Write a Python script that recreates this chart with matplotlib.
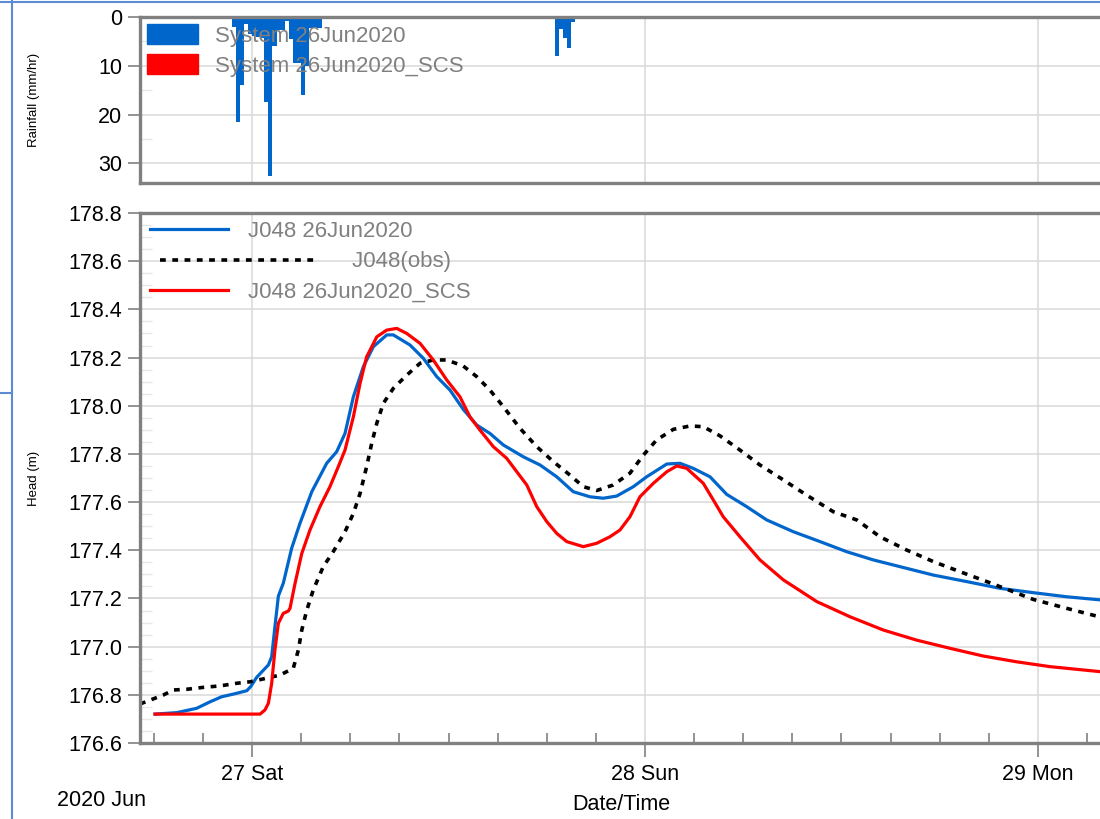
import numpy as np
import pandas as pd
import matplotlib
matplotlib.use("Agg")
import matplotlib.pyplot as plt
import matplotlib.dates as mdates
from matplotlib.lines import Line2D
from matplotlib.patches import Patch
from matplotlib.legend_handler import HandlerLine2D

plt.rcParams["font.family"] = ["Liberation Sans", "DejaVu Sans"]

# ---- data (hours relative to 27 Jun 2020 00:00) ----
base = pd.Timestamp("2020-06-27 00:00")

# rainfall, 15 minute intensities (mm/hr)
rain_start = pd.date_range("2020-06-26 22:45", periods=22, freq="15min").append(
    pd.date_range("2020-06-27 18:30", periods=5, freq="15min"))
rain_sys = [2.0, 21.5, 14.0, 1.5, 3.5, 3.8, 4.0, 4.2, 17.5, 32.5, 6.0, 2.7, 2.7, 0.8,
            4.5, 9.5, 9.5, 16.0, 10.0, 2.3, 2.3, 2.3,
            8.0, 2.5, 4.4, 6.4, 1.0]
rain_scs = rain_sys

# J048 26Jun2020 (model)
blue_h = [-5.92, -4.60, -3.38, -2.56, -1.85, -1.14, -0.32, -0.08, 0.29, 1.00, 1.20, 1.40,
          1.61, 1.91, 2.42, 2.93, 3.65, 4.56, 5.17, 5.68, 6.19, 6.80, 7.41, 8.23, 8.63,
          9.65, 10.46, 11.28, 12.09, 12.90, 13.72, 14.53, 15.35, 16.57, 17.59, 18.61,
          19.62, 20.64, 21.45, 22.27, 23.29, 24.10, 25.33, 26.14, 26.95, 27.97, 28.99,
          30.21, 31.43, 33.06, 34.69, 36.32, 37.94, 39.57, 41.61, 43.65, 45.68, 47.71,
          49.75, 51.97]
blue_v = [176.720, 176.726, 176.744, 176.771, 176.792, 176.803, 176.817, 176.834, 176.873,
          176.924, 176.958, 177.083, 177.210, 177.263, 177.408, 177.512, 177.643, 177.761,
          177.809, 177.885, 178.037, 178.162, 178.245, 178.294, 178.294, 178.252, 178.197,
          178.121, 178.065, 177.985, 177.920, 177.885, 177.837, 177.788, 177.754, 177.705,
          177.643, 177.622, 177.616, 177.625, 177.664, 177.705, 177.758, 177.761, 177.740,
          177.705, 177.632, 177.581, 177.526, 177.477, 177.436, 177.394, 177.360, 177.332,
          177.297, 177.270, 177.242, 177.224, 177.207, 177.193]

# J048 26Jun2020_SCS (model)
red_h = [-5.92, 0.49, 0.79, 1.00, 1.20, 1.40, 1.61, 1.91, 2.22, 2.32, 2.63, 3.04, 3.54,
         4.15, 4.76, 5.27, 5.68, 6.19, 6.60, 7.00, 7.62, 8.23, 8.84, 9.45, 10.26, 11.07,
         11.89, 12.70, 13.31, 13.92, 14.74, 15.55, 16.17, 16.78, 17.39, 18.00, 18.61,
         19.22, 20.23, 21.05, 21.86, 22.47, 23.08, 23.69, 24.51, 25.33, 25.94, 26.55,
         27.56, 28.17, 28.78, 29.80, 31.02, 32.45, 34.49, 36.52, 38.55, 40.59, 42.63,
         44.66, 46.70, 48.73, 51.97]
red_v = [176.720, 176.720, 176.737, 176.765, 176.847, 176.986, 177.097, 177.138, 177.148,
         177.159, 177.263, 177.387, 177.484, 177.581, 177.664, 177.747, 177.816, 177.954,
         178.093, 178.203, 178.286, 178.314, 178.321, 178.300, 178.259, 178.190, 178.107,
         178.037, 177.954, 177.899, 177.830, 177.782, 177.726, 177.671, 177.581, 177.519,
         177.470, 177.436, 177.415, 177.429, 177.456, 177.484, 177.539, 177.622, 177.678,
         177.726, 177.750, 177.740, 177.678, 177.609, 177.539, 177.456, 177.360, 177.277,
         177.187, 177.124, 177.069, 177.027, 176.993, 176.961, 176.937, 176.917, 176.895]

# J048(obs)
obs_h = [-6.84, -5.42, -4.81, -3.99, -2.97, -1.95, -0.93, -0.12, 0.69, 1.71, 2.52, 2.83,
         3.04, 3.34, 3.74, 4.35, 4.96, 5.68, 6.19, 6.60, 7.00, 7.31, 7.62, 8.02, 8.63,
         9.45, 10.26, 11.07, 11.89, 12.90, 13.72, 14.53, 15.35, 16.37, 17.39, 18.40,
         19.42, 20.23, 21.05, 22.06, 23.08, 23.90, 24.71, 25.73, 26.75, 27.56, 28.58,
         29.80, 31.02, 32.45, 33.87, 35.50, 36.93, 38.35, 39.98, 41.61, 43.24, 44.87,
         46.49, 47.71, 49.75, 51.97]
obs_v = [176.762, 176.799, 176.820, 176.823, 176.831, 176.837, 176.848, 176.854, 176.866,
         176.882, 176.910, 176.986, 177.069, 177.150, 177.235, 177.332, 177.394, 177.477,
         177.553, 177.636, 177.747, 177.844, 177.927, 178.010, 178.072, 178.127, 178.176,
         178.190, 178.190, 178.165, 178.121, 178.065, 177.996, 177.906, 177.830, 177.768,
         177.712, 177.664, 177.648, 177.671, 177.720, 177.795, 177.858, 177.902, 177.916,
         177.913, 177.875, 177.816, 177.754, 177.692, 177.629, 177.560, 177.526, 177.456,
         177.401, 177.353, 177.311, 177.270, 177.228, 177.196, 177.159, 177.120]


def to_num(hours):
    return mdates.date2num(base + pd.to_timedelta(np.asarray(hours), unit="h"))


class LongLineHandler(HandlerLine2D):
    # the obs legend sample is drawn longer than the others
    def create_artists(self, legend, orig_handle, xdescent, ydescent, width, height, fontsize, trans):
        return super().create_artists(legend, orig_handle, xdescent - 7, ydescent,
                                      width * 2.05, height, fontsize, trans)


BLUE = "#0066cc"
RED = "#ff0000"
GRAY = "#808080"
GRID = "#d9d9d9"
FS = 15.5
W, H = 1100, 819


def px_axes(left, top, right, bottom):
    return [left / W, 1 - bottom / H, (right - left) / W, (bottom - top) / H]


fig = plt.figure(figsize=(W / 100, H / 100), dpi=100)
ax_r = fig.add_axes(px_axes(140, 17, 1103, 183))
ax_h = fig.add_axes(px_axes(140, 213, 1103, 743), sharex=ax_r)

# ---- rainfall ----
rain_x = mdates.date2num(rain_start)
ax_r.bar(rain_x, rain_scs, width=15 / 1440, align="edge", color=RED, linewidth=0)
ax_r.bar(rain_x, rain_sys, width=15 / 1440, align="edge", color=BLUE, linewidth=0)
ax_r.set_ylim(34, 0)
ax_r.set_yticks([0, 10, 20, 30])
ax_r.set_yticks([5, 15, 25], minor=True)
ax_r.tick_params(axis="x", which="both", bottom=False, labelbottom=False)
ax_r.set_ylabel("Rainfall (mm/hr)", fontsize=9.5)
ax_r.yaxis.set_label_coords((40 - 140) / 963, 0.5)
ax_r.legend([Patch(color=BLUE), Patch(color=RED)],
            ["System 26Jun2020", "System 26Jun2020_SCS"],
            loc="upper left", bbox_to_anchor=(0.007, 0.955), frameon=False,
            fontsize=16, labelcolor=GRAY, handlelength=2.3, handleheight=1.0,
            handletextpad=0.75, labelspacing=0.32, borderpad=0, borderaxespad=0)

# ---- head ----
ax_h.plot(to_num(blue_h), blue_v, color=BLUE, lw=2.3, label="J048 26Jun2020")
obs_line, = ax_h.plot(to_num(obs_h), obs_v, color="black", lw=2.6,
                      linestyle=(0, (1.6, 1.8)), label=" " * 17 + "J048(obs)")
ax_h.plot(to_num(red_h), red_v, color=RED, lw=2.3, label="J048 26Jun2020_SCS")
ax_h.set_ylim(176.6, 178.8)
ax_h.set_yticks(np.round(np.arange(176.6, 178.81, 0.2), 1))
ax_h.set_yticks(np.round(np.arange(176.6, 178.81, 0.05), 2), minor=True)
ax_h.yaxis.set_major_formatter(matplotlib.ticker.FormatStrFormatter("%.1f"))
ax_h.set_ylabel("Head (m)", fontsize=9.5)
ax_h.yaxis.set_label_coords((40 - 140) / 963, 0.5)
ax_h.legend(handler_map={obs_line: LongLineHandler()}, loc="upper left",
            bbox_to_anchor=(0.0104, 0.985), frameon=False, fontsize=16, labelcolor=GRAY,
            handlelength=3.5, handletextpad=0.9, labelspacing=0.42, borderpad=0,
            borderaxespad=0)

ax_h.xaxis.set_major_locator(mdates.DayLocator())
ax_h.xaxis.set_major_formatter(mdates.DateFormatter("%d %a"))
ax_h.xaxis.set_minor_locator(mdates.HourLocator(byhour=range(0, 24, 3)))
ax_h.set_xlim(to_num(-6.84), to_num(51.97))
ax_h.set_xlabel("Date/Time", fontsize=FS)
ax_h.xaxis.set_label_coords(0.5, -0.097)
ax_h.tick_params(axis="x", which="major", direction="out", length=10, width=1.2,
                 color=GRAY, pad=5, labelsize=FS)
ax_h.tick_params(axis="x", which="minor", direction="in", length=7, width=1.2, color=GRAY)

for ax in (ax_r, ax_h):
    ax.set_axisbelow(True)
    ax.grid(which="major", color=GRID, lw=1.1)
    ax.tick_params(axis="y", which="major", direction="out", length=8.5, width=1.2,
                   color=GRAY, pad=4.5, labelsize=FS)
    ax.tick_params(axis="y", which="minor", direction="in", length=8.5, width=1,
                   color="#e8e8e8")
    for side in ("left", "top", "bottom"):
        ax.spines[side].set_color(GRAY)
        ax.spines[side].set_linewidth(2.4)
    ax.spines["right"].set_visible(False)

fig.text(57 / W, 1 - 801 / H, "2020 Jun", fontsize=FS, ha="left", va="center")

# window frame lines of the screenshot
frame = "#5b8bd0"
fig.add_artist(Line2D([0, 1], [1 - 2 / H, 1 - 2 / H], transform=fig.transFigure, color=frame, lw=1.5))
fig.add_artist(Line2D([12 / W, 12 / W], [0, 1], transform=fig.transFigure, color=frame, lw=1.5))
fig.add_artist(Line2D([0, 12 / W], [1 - 393 / H, 1 - 393 / H], transform=fig.transFigure, color=frame, lw=1.5))

fig.savefig("out.png", dpi=100)
